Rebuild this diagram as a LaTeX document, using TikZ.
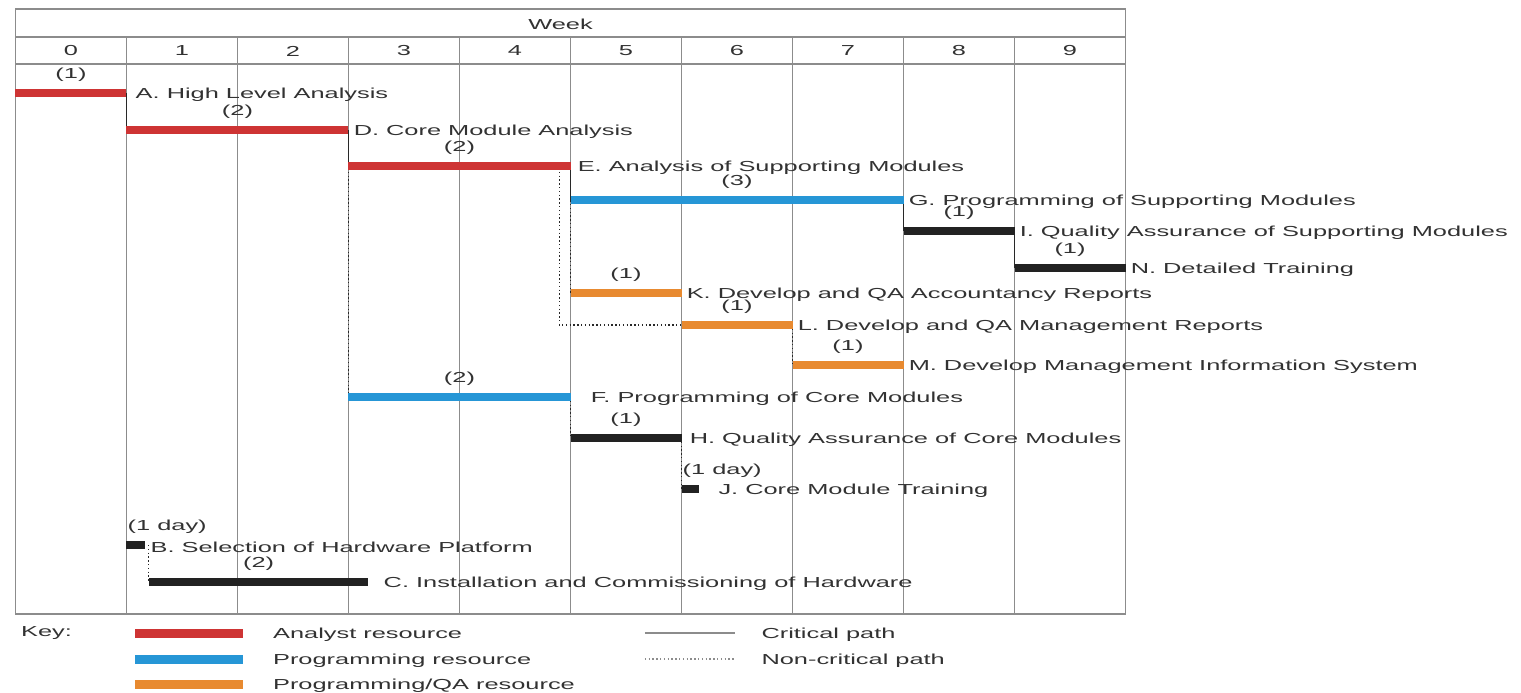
\documentclass[tikz,border=0pt]{standalone}
\usepackage{fontspec}
\usepackage{tikz}
\usetikzlibrary{positioning}
\newfontfamily\chartfont{Liberation Sans}[FakeStretch=1.75]
\definecolor{analystred}{RGB}{206,52,52}
\definecolor{progblue}{RGB}{38,150,214}
\definecolor{qaorange}{RGB}{232,138,48}
\definecolor{barblack}{RGB}{34,34,34}
\definecolor{gridgrey}{RGB}{140,140,140}
\definecolor{pathgrey}{RGB}{40,40,40}
\definecolor{textgrey}{RGB}{50,50,50}

\begin{document}
\begin{tikzpicture}[x=111pt,y=-1pt,
    every node/.style={font=\chartfont\fontsize{14.5}{16}\selectfont,text=textgrey,inner sep=1pt},
    gridline/.style={draw=gridgrey,line width=1.3pt},
    analyst/.style={draw=analystred,line width=8.5pt},
    prog/.style={draw=progblue,line width=8.5pt},
    progqa/.style={draw=qaorange,line width=8.5pt},
    other/.style={draw=barblack,line width=8.5pt},
    crit/.style={draw=pathgrey,line width=1.2pt},
    noncrit/.style={draw=pathgrey,line width=1.3pt,dash pattern=on 1.3pt off 2.5pt},
    dur/.style={above=6pt},
    task/.style={right,yshift=-2pt},
    keybar/.style={minimum width=108pt,minimum height=9pt,inner sep=0pt}]
    \useasboundingbox (-0.1396,0) rectangle (13.5631,693);
    % grid and header
    \draw[gridline] (0,9) rectangle (10,614);
    \draw[gridline] (0,37) -- (10,37);
    \draw[gridline] (0,64) -- (10,64);
    \foreach \w in {1,...,9}
    \draw[gridline] (\w,37) -- (\w,614);
    \node (week) at (4.91,24) {Week};
    \foreach \w in {0,...,9}
    \node (wk\w) at (\w+0.5,51) {\w};
    % task ends
    \coordinate (A0) at (0,93);     \coordinate (A1) at (1,93);
    \coordinate (D0) at (1,130);    \coordinate (D1) at (3,130);
    \coordinate (E0) at (3,166);    \coordinate (E1) at (5,166);
    \coordinate (G0) at (5,200);    \coordinate (G1) at (8,200);
    \coordinate (I0) at (8,231);    \coordinate (I1) at (9,231);
    \coordinate (N0) at (9,268);    \coordinate (N1) at (10,268);
    \coordinate (K0) at (5,293);    \coordinate (K1) at (6,293);
    \coordinate (L0) at (6,325);    \coordinate (L1) at (7,325);
    \coordinate (M0) at (7,365);    \coordinate (M1) at (8,365);
    \coordinate (F0) at (3,397);    \coordinate (F1) at (5,397);
    \coordinate (H0) at (5,438);    \coordinate (H1) at (6,438);
    \coordinate (J0) at (6,489);    \coordinate (J1) at (6.16,489);
    \coordinate (B0) at (1,545);    \coordinate (B1) at (1.17,545);
    \coordinate (C0) at (1.2,582);  \coordinate (C1) at (3.18,582);
    \coordinate (EL) at (4.9,168);
    % critical path
    \draw[crit] (A1) -- (D0);
    \draw[crit] (D1) -- (E0);
    \draw[crit] (E1) -- (G0);
    \draw[crit] (G1) -- (I0);
    \draw[crit] (I1) -- (N0);
    % non-critical path
    \draw[noncrit] (D1) -- (F0);
    \draw[noncrit] (E1) -- (K0);
    \draw[noncrit] (EL) |- (L0);
    \draw[noncrit] (L1) -- (M0);
    \draw[noncrit] (F1) -- (H0);
    \draw[noncrit] (H1) -- (J0);
    \draw[noncrit] (C0 |- B1) -- (C0);
    % bars
    \draw[analyst] (A0) -- (A1) node[pos=0.5,dur] (dA) {(1)} node[task,xshift=4pt] (tA) {A. High Level Analysis};
    \draw[analyst] (D0) -- (D1) node[pos=0.5,dur] (dD) {(2)} node[task] (tD) {D. Core Module Analysis};
    \draw[analyst] (E0) -- (E1) node[pos=0.5,dur] (dE) {(2)} node[task,xshift=2pt] (tE) {E. Analysis of Supporting Modules};
    \draw[prog] (G0) -- (G1) node[pos=0.5,dur] (dG) {(3)} node[task] (tG) {G. Programming of Supporting Modules};
    \draw[other] (I0) -- (I1) node[pos=0.5,dur] (dI) {(1)} node[task] (tI) {I. Quality Assurance of Supporting Modules};
    \draw[other] (N0) -- (N1) node[pos=0.5,dur] (dN) {(1)} node[task] (tN) {N. Detailed Training};
    \draw[progqa] (K0) -- (K1) node[pos=0.5,dur] (dK) {(1)} node[task] (tK) {K. Develop and QA Accountancy Reports};
    \draw[progqa] (L0) -- (L1) node[pos=0.5,dur] (dL) {(1)} node[task] (tL) {L. Develop and QA Management Reports};
    \draw[progqa] (M0) -- (M1) node[pos=0.5,dur] (dM) {(1)} node[task] (tM) {M. Develop Management Information System};
    \draw[prog] (F0) -- (F1) node[pos=0.5,dur] (dF) {(2)} node[task,xshift=15pt] (tF) {F. Programming of Core Modules};
    \draw[other] (H0) -- (H1) node[pos=0.5,dur] (dH) {(1)} node[task,xshift=3pt] (tH) {H. Quality Assurance of Core Modules};
    \draw[other] (J0) -- (J1) node[task,xshift=14pt] (tJ) {J. Core Module Training};
    \node[anchor=south west,yshift=10pt] (dJ) at (J0) {(1 day)};
    \draw[other] (B0) -- (B1) node[task] (tB) {B. Selection of Hardware Platform};
    \node[anchor=south west,yshift=10pt] (dB) at (B0) {(1 day)};
    \draw[other] (C0) -- (C1) node[pos=0.5,dur] (dC) {(2)} node[task,xshift=10pt] (tC) {C. Installation and Commissioning of Hardware};
    % key
    \node[anchor=west] (key) at (0.04,633) {Key:};
    \node[keybar,fill=analystred] (keyA) at (1.563,633) {};
    \node[keybar,fill=progblue] (keyP) at (1.563,659) {};
    \node[keybar,fill=qaorange] (keyQ) at (1.563,684) {};
    \node[anchor=west] (keyAt) at (2.31,635) {Analyst resource};
    \node[anchor=west] (keyPt) at (2.31,661) {Programming resource};
    \node[anchor=west] (keyQt) at (2.31,686) {Programming/QA resource};
    \coordinate (kc0) at (5.67,633);  \coordinate (kc1) at (6.48,633);
    \coordinate (kn0) at (5.67,659);  \coordinate (kn1) at (6.48,659);
    \draw[crit,draw=gridgrey,line width=1.5pt] (kc0) -- (kc1);
    \draw[noncrit,draw=gridgrey] (kn0) -- (kn1);
    \node[anchor=west] (keyCt) at (6.71,635) {Critical path};
    \node[anchor=west] (keyNt) at (6.71,661) {Non-critical path};
\end{tikzpicture}
\end{document}
